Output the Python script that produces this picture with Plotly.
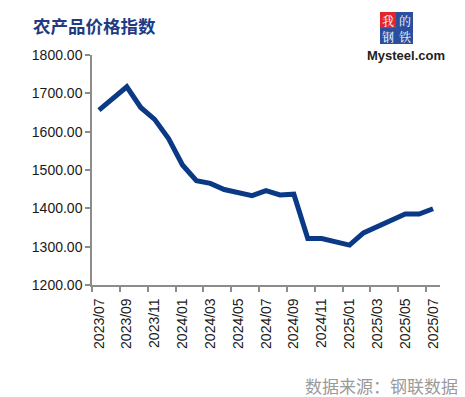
import plotly.graph_objects as go

months = ["2023/07","2023/08","2023/09","2023/10","2023/11","2023/12",
          "2024/01","2024/02","2024/03","2024/04","2024/05","2024/06",
          "2024/07","2024/08","2024/09","2024/10","2024/11","2024/12",
          "2025/01","2025/02","2025/03","2025/04","2025/05","2025/06","2025/07"]
index_values = [1656, 1688, 1717, 1663, 1632, 1582, 1513, 1472, 1465, 1449,
                1440, 1433, 1446, 1435, 1437, 1321, 1321, 1311, 1304, 1336,
                1353, 1371, 1385, 1385, 1399]
y_ticks = [1200, 1300, 1400, 1500, 1600, 1700, 1800]
y_tick_text = ["1200.00", "1300.00", "1400.00", "1500.00", "1600.00", "1700.00", "1800.00"]
x_label_months = months[::2]

W, H = 465, 397
L, R, T, B = 92, 25, 55, 112
PW, PH = W - L - R, H - T - B

def px(x):
    return (x - L) / PW

def py(y):
    return (H - B - y) / PH

fig = go.Figure()
fig.add_trace(go.Scatter(x=months, y=index_values, mode="lines",
                         line=dict(color="#0a3a86", width=5),
                         hoverinfo="x+y", showlegend=False))
# invisible trace to carry the boundary tick axis
fig.add_trace(go.Scatter(x=[-0.5], y=[1200], xaxis="x2", mode="markers",
                         marker=dict(opacity=0), showlegend=False, hoverinfo="skip"))

tickfont = dict(family="Liberation Sans, Arial, sans-serif", size=14, color="#1a1a1a")

fig.update_layout(
    width=W, height=H,
    margin=dict(l=L, r=R, t=T, b=B),
    paper_bgcolor="white", plot_bgcolor="white",
    xaxis=dict(type="category", range=[-0.5, len(months) - 0.5],
               tickmode="array", tickvals=x_label_months, ticktext=x_label_months,
               tickangle=-90, ticks="", showgrid=False, zeroline=False,
               showline=True, linecolor="#8c8c8c", linewidth=1.5,
               tickfont=tickfont, ticklabelstandoff=6),
    xaxis2=dict(overlaying="x", side="bottom", range=[-0.5, len(months) - 0.5],
                tickmode="array", tickvals=[i - 0.5 for i in range(0, len(months), 2)],
                ticktext=["" for _ in range(0, len(months), 2)],
                ticks="outside", ticklen=6, tickcolor="#8c8c8c", tickwidth=1.5,
                showgrid=False, zeroline=False, showline=False),
    yaxis=dict(range=[1200, 1800], tickmode="array", tickvals=y_ticks, ticktext=y_tick_text,
               ticks="outside", ticklen=5, tickcolor="#8c8c8c", tickwidth=1.5,
               showline=True, linecolor="#8c8c8c", linewidth=1.5,
               showgrid=False, zeroline=False, tickfont=tickfont),
    font=dict(family="Liberation Sans, Arial, sans-serif"),
)

# Title
fig.add_annotation(text="<b>农产品价格指数</b>", xref="paper", yref="paper",
                   x=px(31), y=py(25), xanchor="left", yanchor="middle", showarrow=False,
                   font=dict(family="Noto Sans CJK SC", size=17.5, color="#1f3b83"))

# Source
fig.add_annotation(text="数据来源：钢联数据", xref="paper", yref="paper",
                   x=px(460), y=py(385), xanchor="right", yanchor="middle", showarrow=False,
                   font=dict(family="Noto Sans CJK SC", size=17, color="#9a9a9a"))

# Logo
cells = [("我", 380, 396, 12, 28, "#e0262c"),
         ("的", 396, 413, 12, 28, "#2b4f9e"),
         ("钢", 380, 396, 28, 44, "#2b4f9e"),
         ("铁", 396, 413, 28, 44, "#2b4f9e")]
for ch, x0, x1, y0, y1, col in cells:
    fig.add_shape(type="rect", xref="paper", yref="paper",
                  x0=px(x0), x1=px(x1), y0=py(y1), y1=py(y0),
                  fillcolor=col, line=dict(width=0), layer="above")
    fig.add_annotation(text=ch, xref="paper", yref="paper",
                       x=px((x0 + x1) / 2), y=py((y0 + y1) / 2),
                       xanchor="center", yanchor="middle", showarrow=False,
                       borderpad=0,
                       font=dict(family="Noto Serif CJK SC, Noto Sans CJK SC", size=12, color="white"))
fig.add_annotation(text="<b>Mysteel.com</b>", xref="paper", yref="paper",
                   x=px(406), y=py(55), xanchor="center", yanchor="middle", showarrow=False,
                   font=dict(family="Liberation Sans, Arial, sans-serif", size=13, color="#222222"))

fig.write_html("out.html", config={"displayModeBar": False},
               post_script="document.body.style.margin='0';")
